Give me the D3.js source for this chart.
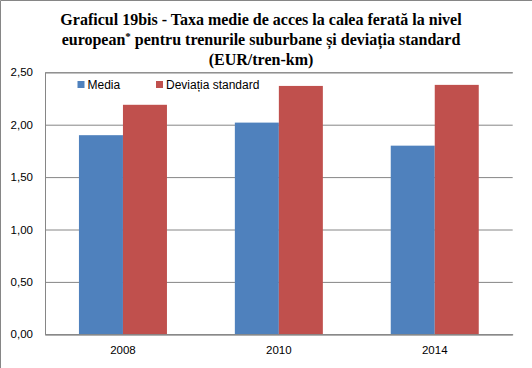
<!DOCTYPE html>
<html><head><meta charset="utf-8">
<script src="https://cdn.jsdelivr.net/npm/d3@7"></script>
<style>body{margin:0;background:#fff}svg{display:block}</style>
</head><body>
<script>
const categories = ["2008", "2010", "2014"];
const seriesNames = ["Media", "Deviația standard"];
const media = [1.90, 2.02, 1.80];
const deviatia = [2.19, 2.37, 2.38];
const yTicks = [0, 0.5, 1, 1.5, 2, 2.5];
const colors = ["#4F81BD", "#C0504D"];

const W = 532, H = 368;
const m = {left: 45, right: 19.3, top: 72.3, bottom: 33.7};
const svg = d3.select("body").append("svg").attr("width", W).attr("height", H);
svg.append("rect").attr("width", W).attr("height", H).attr("fill", "#fff");
svg.append("path").attr("d", `M0.5,${H}V0.5H${W}`).attr("fill", "none").attr("stroke", "#868686");

// Title
const title = svg.append("text").attr("text-anchor", "middle")
  .attr("font-family", "Liberation Serif, Times New Roman, serif").attr("font-weight", "bold")
  .attr("font-size", 16).attr("fill", "#000");
title.append("tspan").attr("x", W / 2 - 5).attr("y", 25).text("Graficul 19bis - Taxa medie de acces la calea ferată la nivel");
const l2 = title.append("tspan").attr("x", W / 2 - 5).attr("y", 45);
l2.append("tspan").text("european");
l2.append("tspan").attr("dy", -5).attr("font-size", 11).text("*");
l2.append("tspan").attr("dy", 5).text(" pentru trenurile suburbane și deviația standard");
title.append("tspan").attr("x", W / 2 - 5).attr("y", 65).text("(EUR/tren-km)");

const x0 = d3.scaleBand().domain(categories).range([m.left, W - m.right]).paddingInner(0.4355).paddingOuter(0.4355 / 2);
const x1 = d3.scaleBand().domain(seriesNames).range([0, x0.bandwidth()]);
const y = d3.scaleLinear().domain([0, 2.5]).range([H - m.bottom, m.top]);

const fmt = d => d.toFixed(2).replace(".", ",");
const yAxis = svg.append("g").attr("transform", `translate(${m.left},0)`)
  .call(d3.axisLeft(y).tickValues(yTicks).tickFormat(fmt).tickSize(-(W - m.left - m.right)).tickPadding(12));
yAxis.select(".domain").attr("stroke", "#868686");
yAxis.selectAll(".tick line").attr("stroke", "#868686");
yAxis.selectAll("text").attr("font-family", "Liberation Sans, Arial, sans-serif").attr("font-size", 11.5).attr("fill", "#000");

const data = categories.map((c, i) => ({cat: c, vals: [media[i], deviatia[i]]}));
svg.append("g").selectAll("g").data(data).join("g")
  .attr("transform", d => `translate(${x0(d.cat)},0)`)
  .selectAll("rect").data(d => d.vals.map((v, j) => ({v, s: seriesNames[j], j})))
  .join("rect")
  .attr("x", d => x1(d.s)).attr("width", x1.bandwidth())
  .attr("y", d => y(d.v)).attr("height", d => y(0) - y(d.v))
  .attr("fill", d => colors[d.j]);

const xAxis = svg.append("g").attr("transform", `translate(0,${H - m.bottom})`)
  .call(d3.axisBottom(x0).tickSize(0).tickPadding(12));
xAxis.select(".domain").attr("stroke", "#868686");
xAxis.selectAll("text").attr("font-family", "Liberation Sans, Arial, sans-serif").attr("font-size", 11.5).attr("fill", "#000");

// Legend
const legX = [77.5, 156];
const leg = svg.append("g").selectAll("g").data(seriesNames).join("g")
  .attr("transform", (d, i) => `translate(${legX[i]},81)`);
leg.append("rect").attr("width", 7).attr("height", 7).attr("fill", (d, i) => colors[i]);
leg.append("text").attr("x", 10).attr("y", 8).text(d => d)
  .attr("font-family", "Liberation Sans, Arial, sans-serif").attr("font-size", 12).attr("fill", "#000");
</script>
</body></html>
